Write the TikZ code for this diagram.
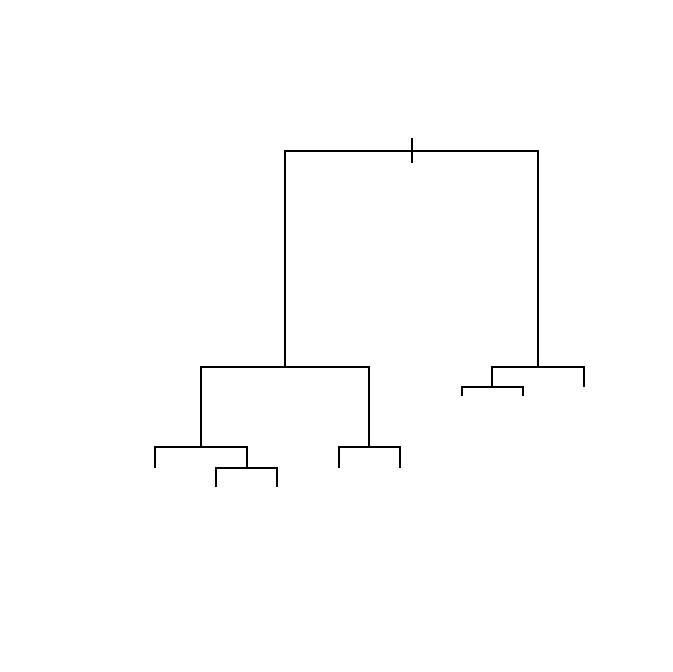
\documentclass[tikz,border=0pt]{standalone}
\begin{document}
\begin{tikzpicture}[x=1pt,y=-1pt,seg/.style={line width=1.8pt,line cap=butt}]
\useasboundingbox (0,0) rectangle (672,672);
% root
\coordinate (rootL) at (285,151);
\coordinate (rootR) at (538.3,151);
\coordinate (tickT) at (411.7,138.3);
\coordinate (tickB) at (411.7,163.3);
% left cluster
\coordinate (A) at (285,366.7);
\coordinate (AL) at (201,366.7);
\coordinate (AR) at (369.3,366.7);
\coordinate (B) at (201,446.7);
\coordinate (BL) at (155,446.7);
\coordinate (BR) at (246.7,446.7);
\coordinate (l1) at (155,468.3);
\coordinate (C) at (246.7,467.7);
\coordinate (CL) at (216.3,467.7);
\coordinate (CR) at (277.3,467.7);
\coordinate (l2) at (216.3,487.3);
\coordinate (l3) at (277.3,487.3);
\coordinate (D) at (369.3,446.7);
\coordinate (DL) at (339,446.7);
\coordinate (DR) at (400,446.7);
\coordinate (l4) at (339,467.7);
\coordinate (l5) at (400,467.7);
% right cluster
\coordinate (E) at (538.3,366.7);
\coordinate (EL) at (492.3,366.7);
\coordinate (ER) at (584,366.7);
\coordinate (l6) at (584,387.3);
\coordinate (F) at (492.3,386.7);
\coordinate (FL) at (461.7,386.7);
\coordinate (FR) at (522.7,386.7);
\coordinate (l7) at (461.7,395.7);
\coordinate (l8) at (522.7,395.7);
% draw
\draw[seg] (A) -- (rootL) -- (rootR) -- (E);
\draw[seg] (tickT) -- (tickB);
\draw[seg] (B) -- (AL) -- (AR) -- (D);
\draw[seg] (l1) -- (BL) -- (BR) -- (C);
\draw[seg] (l2) -- (CL) -- (CR) -- (l3);
\draw[seg] (l4) -- (DL) -- (DR) -- (l5);
\draw[seg] (F) -- (EL) -- (ER) -- (l6);
\draw[seg] (l7) -- (FL) -- (FR) -- (l8);
\end{tikzpicture}
\end{document}
